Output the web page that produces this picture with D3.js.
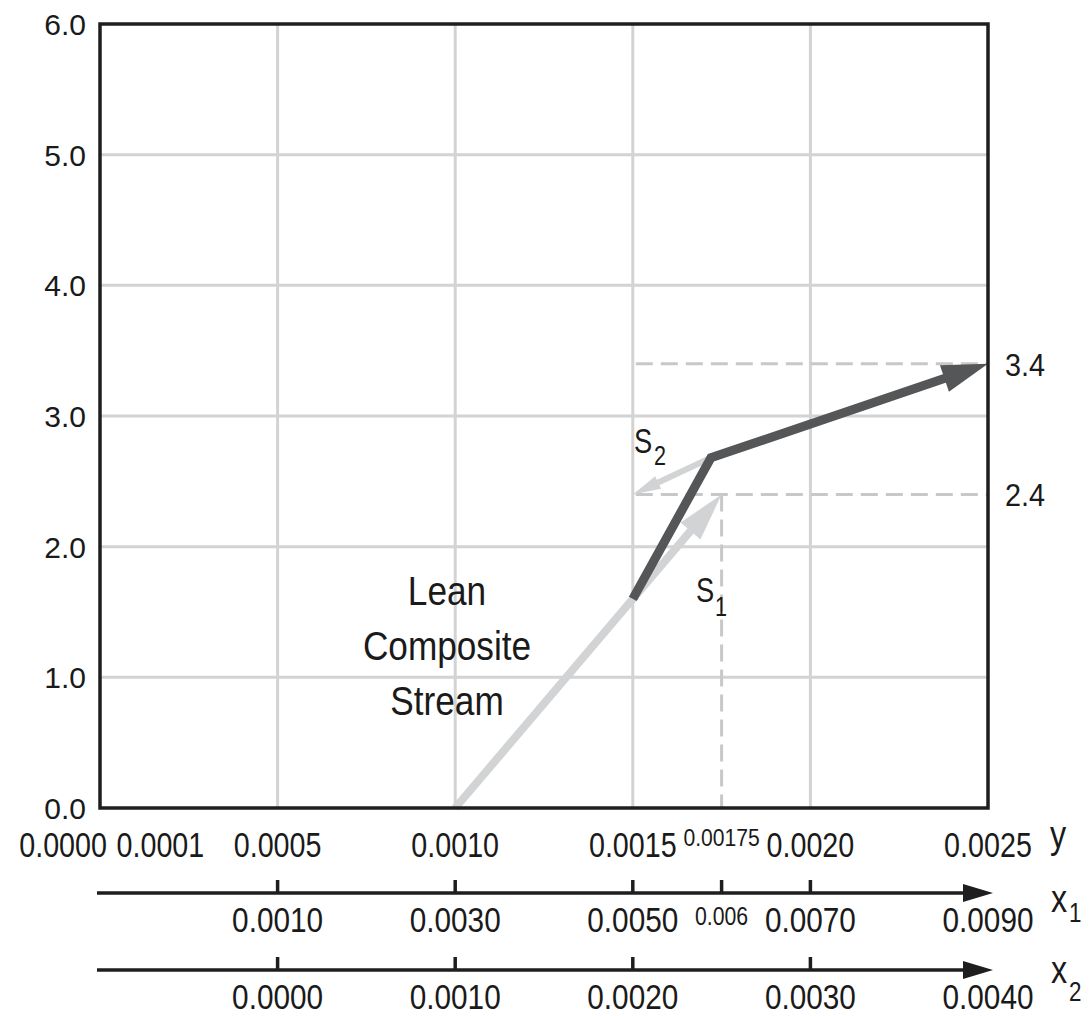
<!DOCTYPE html>
<html>
<head>
<meta charset="utf-8">
<script src="https://cdn.jsdelivr.net/npm/d3@7"></script>
<style>
  body { margin: 0; background: #fff; }
  text { font-family: "Liberation Sans", Arial, sans-serif; fill: #1a1a1a; }
</style>
</head>
<body>
<svg id="chart" width="1091" height="1016"></svg>
<script>
// data
var yTicks = [0, 1, 2, 3, 4, 5, 6];
var gridY = [1, 2, 3, 4, 5];
var gridX = [0.0005, 0.0010, 0.0015, 0.0020];
var yScaleTicks = [0.0000, 0.0001, 0.0005, 0.0010, 0.0015, 0.00175, 0.0020, 0.0025];
var yScaleLabels = ['0.0000', '0.0001', '0.0005', '0.0010', '0.0015', '0.00175', '0.0020', '0.0025'];
var x1Ticks = [0.0010, 0.0030, 0.0050, 0.0060, 0.0070, 0.0090];
var x1Labels = ['0.0010', '0.0030', '0.0050', '0.006', '0.0070', '0.0090'];
var x2Ticks = [0.0000, 0.0010, 0.0020, 0.0030, 0.0040];
var x2Labels = ['0.0000', '0.0010', '0.0020', '0.0030', '0.0040'];
var leanStream = [[0.0010, 0.0], [0.00175, 2.4]];     // S1 + composite
var s2Vector = [[0.00172, 2.68], [0.0015, 2.4]];
var resultPath = [[0.0015, 1.6], [0.00172, 2.68], [0.0025, 3.4]];
var refLevels = [3.4, 2.4];
var refLabels = ['3.4', '2.4'];

var svg = d3.select('#chart');
var x = d3.scaleLinear().domain([0, 0.0025]).range([100, 988]);
var y = d3.scaleLinear().domain([0, 6]).range([808, 24]);
var x1 = d3.scaleLinear().domain([-0.001, 0.009]).range([100, 988]);
var x2 = d3.scaleLinear().domain([-0.001, 0.004]).range([100, 988]);

var light = '#d2d3d4', dark = '#555657', gridC = '#d3d3d3';

// stretched text helper (source text is narrow)
function label(g, str, px, py, size, sx, anchor) {
    return g.append('text')
        .attr('transform', 'translate(' + px + ',' + py + ') scale(' + sx + ',1)')
        .attr('font-size', size)
        .attr('text-anchor', anchor || 'middle')
        .text(str);
}

function arrowHead(g, p0, p1, len, half, color) {
    var dx = p1[0] - p0[0], dy = p1[1] - p0[1];
    var L = Math.sqrt(dx * dx + dy * dy), ux = dx / L, uy = dy / L;
    var bx = p1[0] - ux * len, by = p1[1] - uy * len;
    g.append('path')
        .attr('d', 'M' + p1[0] + ',' + p1[1] +
            'L' + (bx - uy * half) + ',' + (by + ux * half) +
            'L' + (bx + uy * half) + ',' + (by - ux * half) + 'Z')
        .attr('fill', color);
    return [p1[0] - ux * len * 0.6, p1[1] - uy * len * 0.6];
}

// grid
svg.append('g').selectAll('line').data(gridY).enter().append('line')
    .attr('x1', x(0)).attr('x2', x(0.0025))
    .attr('y1', d => y(d)).attr('y2', d => y(d))
    .attr('stroke', gridC).attr('stroke-width', 3);
svg.append('g').selectAll('line').data(gridX).enter().append('line')
    .attr('x1', d => x(d)).attr('x2', d => x(d))
    .attr('y1', y(0)).attr('y2', y(6))
    .attr('stroke', gridC).attr('stroke-width', 3);

// dashed reference lines
var dash = svg.append('g').attr('stroke', '#c8c8c8').attr('stroke-width', 3)
    .attr('stroke-dasharray', '17,8');
refLevels.forEach(function (v) {
    dash.append('line').attr('x1', x(0.0015) + 3).attr('x2', x(0.0025))
        .attr('y1', y(v)).attr('y2', y(v));
});
dash.append('line').attr('x1', x(0.00175)).attr('x2', x(0.00175))
    .attr('y1', y(2.4)).attr('y2', y(0));

// vectors
var vg = svg.append('g');

// lean composite stream (light)
var ls = leanStream.map(d => [x(d[0]), y(d[1])]);
var lsEnd = arrowHead(vg, ls[0], ls[1], 48, 13, light);
vg.append('path').attr('d', d3.line()([ls[0], lsEnd]))
    .attr('stroke', light).attr('stroke-width', 8).attr('fill', 'none');

// S2 (light, pointing left)
var s2 = s2Vector.map(d => [x(d[0]), y(d[1])]);
var s2End = arrowHead(vg, s2[0], s2[1], 28, 7, light);
vg.append('path').attr('d', d3.line()([s2[0], s2End]))
    .attr('stroke', light).attr('stroke-width', 6).attr('fill', 'none');

// resulting path (dark)
var rp = resultPath.map(d => [x(d[0]), y(d[1])]);
var rpEnd = arrowHead(vg, rp[1], rp[2], 46, 14, dark);
vg.append('path').attr('d', d3.line()([rp[0], rp[1], rpEnd]))
    .attr('stroke', dark).attr('stroke-width', 9).attr('fill', 'none')
    .attr('stroke-linejoin', 'miter');

// frame
svg.append('rect').attr('x', x(0)).attr('y', y(6))
    .attr('width', x(0.0025) - x(0)).attr('height', y(0) - y(6))
    .attr('fill', 'none').attr('stroke', '#1e1e1e').attr('stroke-width', 3.5);

// left axis labels
var tl = svg.append('g');
yTicks.forEach(function (v) {
    label(tl, v.toFixed(1), 86, y(v) + 11, 30, 1, 'end');
});

// right reference labels
refLevels.forEach(function (v, i) {
    label(tl, refLabels[i], 1005, y(v) + 12, 31, 0.93, 'start');
});

// y mole fraction labels under frame
yScaleTicks.forEach(function (v, i) {
    var t = yScaleLabels[i];
    if (t === '0.00175') {
        label(tl, t, x(v), 846, 24, 0.88, 'middle');
    } else if (t === '0.0000') {
        label(tl, t, x(v) + 7, 857, 35, 0.82, 'end');
    } else if (t === '0.0001') {
        label(tl, t, x(v) - 19, 857, 35, 0.82, 'start');
    } else {
        label(tl, t, x(v), 857, 35, 0.82, 'middle');
    }
});

// x1 / x2 arrow axes
function arrowAxis(scale, ticks, labels, ly, tickIdx) {
    var g = svg.append('g');
    var p0 = [97, ly], p1 = [993, ly];
    var e = arrowHead(g, p0, p1, 30, 9, '#1e1e1e');
    g.append('line').attr('x1', p0[0]).attr('x2', e[0]).attr('y1', ly).attr('y2', ly)
        .attr('stroke', '#1e1e1e').attr('stroke-width', 3.5);
    ticks.forEach(function (v, i) {
        if (tickIdx.indexOf(i) >= 0) {
            g.append('line').attr('x1', scale(v)).attr('x2', scale(v))
                .attr('y1', ly - 13).attr('y2', ly)
                .attr('stroke', '#1e1e1e').attr('stroke-width', 3.5);
        }
        var small = labels[i].length < 6;
        label(g, labels[i], scale(v), small ? ly + 32 : ly + 39, small ? 25 : 35, 0.85, 'middle');
    });
}
arrowAxis(x1, x1Ticks, x1Labels, 893, [0, 1, 2, 3, 4]);
arrowAxis(x2, x2Ticks, x2Labels, 970, [0, 1, 2, 3]);

// axis names
label(tl, 'y', 1050, 848, 38, 0.85, 'start');
label(tl, 'x', 1051, 912, 38, 0.85, 'start');
label(tl, '1', 1069, 922, 28, 0.8, 'start');
label(tl, 'x', 1051, 983, 38, 0.85, 'start');
label(tl, '2', 1069, 1001, 28, 0.8, 'start');

// S labels
label(tl, 'S', 634, 453, 35, 0.78, 'start');
label(tl, '2', 654, 465, 27, 0.8, 'start');
label(tl, 'S', 696, 602, 35, 0.78, 'start');
label(tl, '1', 715, 616, 27, 0.8, 'start');

// stream text
['Lean', 'Composite', 'Stream'].forEach(function (t, i) {
    label(tl, t, 447, 605 + i * 55, 40, 0.88, 'middle');
});
</script>
</body>
</html>
